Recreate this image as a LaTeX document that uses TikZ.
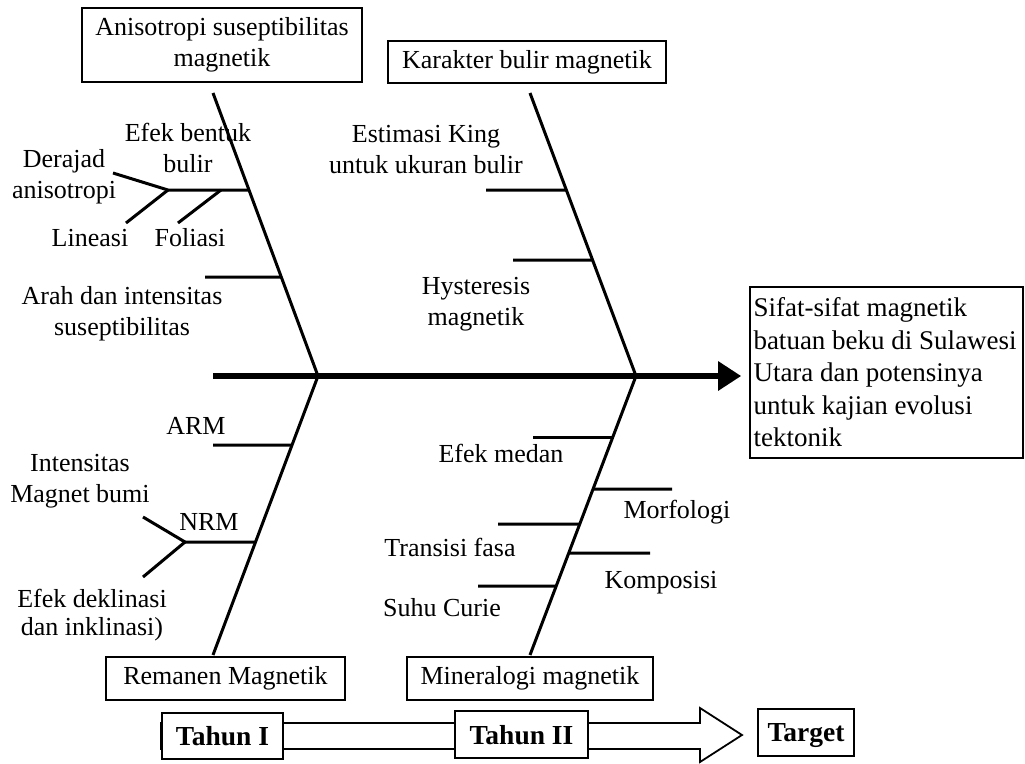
\documentclass[tikz,border=0pt]{standalone}
\usepackage{fontspec}
\setmainfont{Liberation Serif}
\usetikzlibrary{arrows.meta,calc}
\begin{document}
\begin{tikzpicture}[x=1pt,y=-1pt,
  lbl/.style={inner sep=0pt, align=center, font=\fontsize{26}{31}\selectfont},
  box/.style={draw, line width=1.6pt, inner sep=0pt, align=center, font=\fontsize{26}{31}\selectfont},
  bone/.style={line width=3pt},
  twig/.style={line width=3pt},
  spine/.style={line width=6.5pt, -{Triangle[length=23pt,width=28pt]}},
  yearbox/.style={draw, line width=1.8pt, fill=white, inner sep=0pt, text depth=0pt, font=\fontsize{27.5}{31}\selectfont\bfseries},
  blockarrow/.style={draw, line width=1.8pt, line join=miter}
]
\useasboundingbox (0,0) rectangle (1025,763);

% category boxes
\node[box, minimum width=280pt, minimum height=74pt] (aniso) at (222,45) {Anisotropi suseptibilitas\\magnetik};
\node[box, minimum width=278pt, minimum height=42pt] (karakter) at (527,62) {Karakter bulir magnetik};
\node[box, minimum width=239pt, minimum height=43pt] (remanen) at (225.5,678.5) {Remanen Magnetik};
\node[box, minimum width=246pt, minimum height=43pt] (mineral) at (530,678.5) {Mineralogi magnetik};
\node[box, align=flush left, text width=266pt, inner xsep=3.5pt, minimum height=171pt, font=\fontsize{27}{32.5}\selectfont] (goal) at (886.5,372.5) {Sifat-sifat magnetik\\batuan beku di Sulawesi\\Utara dan potensinya\\untuk kajian evolusi\\tektonik};

% bone coordinates
\coordinate (ulT) at (213,93);
\coordinate (J1) at (318,376);
\coordinate (llB) at (213,655);
\coordinate (urT) at (530,93);
\coordinate (J2) at (636,376);
\coordinate (lrB) at (530,655);
\coordinate (sp0) at (213,376);

% spine
\draw[spine, shorten >=8pt] (sp0) -- (sp0 -| goal.west);

% bones
\draw[bone] (ulT) -- (J1);
\draw[bone] (J1) -- (llB);
\draw[bone] (urT) -- (J2);
\draw[bone] (J2) -- (lrB);

% upper-left twigs
\coordinate (a1) at ($(ulT)!0.3428!(J1)$);
\coordinate (a1e) at (168,190);
\coordinate (deraE) at (113,173);
\coordinate (linE) at (126,223);
\coordinate (fol0) at (221,190);
\coordinate (folE) at (178,223);
\coordinate (a2) at ($(ulT)!0.6502!(J1)$);
\coordinate (a2e) at (205,277);
\draw[twig] (a1e) -- (a1);
\draw[twig] (a1e) -- (deraE);
\draw[twig] (a1e) -- (linE);
\draw[twig] (fol0) -- (folE);
\draw[twig] (a2e) -- (a2);

% upper-right twigs
\coordinate (b1) at ($(urT)!0.3428!(J2)$);
\coordinate (b1e) at (486,190);
\coordinate (b2) at ($(urT)!0.5901!(J2)$);
\coordinate (b2e) at (513,260);
\draw[twig] (b1e) -- (b1);
\draw[twig] (b2e) -- (b2);

% lower-left twigs
\coordinate (c1) at ($(J1)!0.2473!(llB)$);
\coordinate (c1e) at (213,445);
\coordinate (c2) at ($(J1)!0.5950!(llB)$);
\coordinate (c2e) at (185,542);
\coordinate (c2a) at (143,517);
\coordinate (c2b) at (143,577);
\draw[twig] (c1e) -- (c1);
\draw[twig] (c2e) -- (c2);
\draw[twig] (c2e) -- (c2a);
\draw[twig] (c2e) -- (c2b);

% lower-right twigs
\coordinate (d1) at ($(J2)!0.2186!(lrB)$);
\coordinate (d1e) at (533,437);
\coordinate (d2) at ($(J2)!0.4050!(lrB)$);
\coordinate (d2e) at (672,489);
\coordinate (d3) at ($(J2)!0.5305!(lrB)$);
\coordinate (d3e) at (498,524);
\coordinate (d4) at ($(J2)!0.6344!(lrB)$);
\coordinate (d4e) at (650,553);
\coordinate (d5) at ($(J2)!0.7527!(lrB)$);
\coordinate (d5e) at (478,586);
\draw[twig] (d1e) -- (d1e -| d1);
\draw[twig] (d2) -- (d2e);
\draw[twig] (d3e) -- (d3);
\draw[twig] (d4) -- (d4e);
\draw[twig] (d5e) -- (d5);

% labels
\node[lbl] (effB) at (188,148) {Efek bentuk\\bulir};
\node[lbl] (deraj) at (64,177) {Derajad\\anisotropi};
\node[lbl] (lin) at (90,238) {Lineasi};
\node[lbl] (foli) at (190,238) {Foliasi};
\node[lbl] (arah) at (122,314) {Arah dan intensitas\\suseptibilitas};
\node[lbl] (estim) at (426,150) {Estimasi King\\untuk ukuran bulir};
\node[lbl] (hyst) at (476,304) {Hysteresis\\magnetik};
\node[lbl] (arm) at (196,426) {ARM};
\node[lbl] (intens) at (80,481) {Intensitas\\Magnet bumi};
\node[lbl] (nrm) at (209,522) {NRM};
\node[lbl, font=\fontsize{26}{28}\selectfont] (dekl) at (92,615) {Efek deklinasi\\dan inklinasi)};
\node[lbl] (medan) at (501,453) {Efek medan};
\node[lbl] (morf) at (677,512) {Morfologi};
\node[lbl] (trans) at (450,547) {Transisi fasa};
\node[lbl] (komp) at (661,583) {Komposisi};
\node[lbl] (suhu) at (442,608) {Suhu Curie};

% timeline
\draw[blockarrow] (161,723) -- (700,723) -- (700,708) -- (742,735) -- (700,762) -- (700,749) -- (161,749) -- cycle;
\node[yearbox, minimum width=121pt, minimum height=46pt] (t1) at (222.5,736) {Tahun I};
\node[yearbox, minimum width=133pt, minimum height=47pt] (t2) at (521.5,734.5) {Tahun II};
\node[yearbox, minimum width=96pt, minimum height=47pt] (target) at (806,732.5) {Target};
\end{tikzpicture}
\end{document}
